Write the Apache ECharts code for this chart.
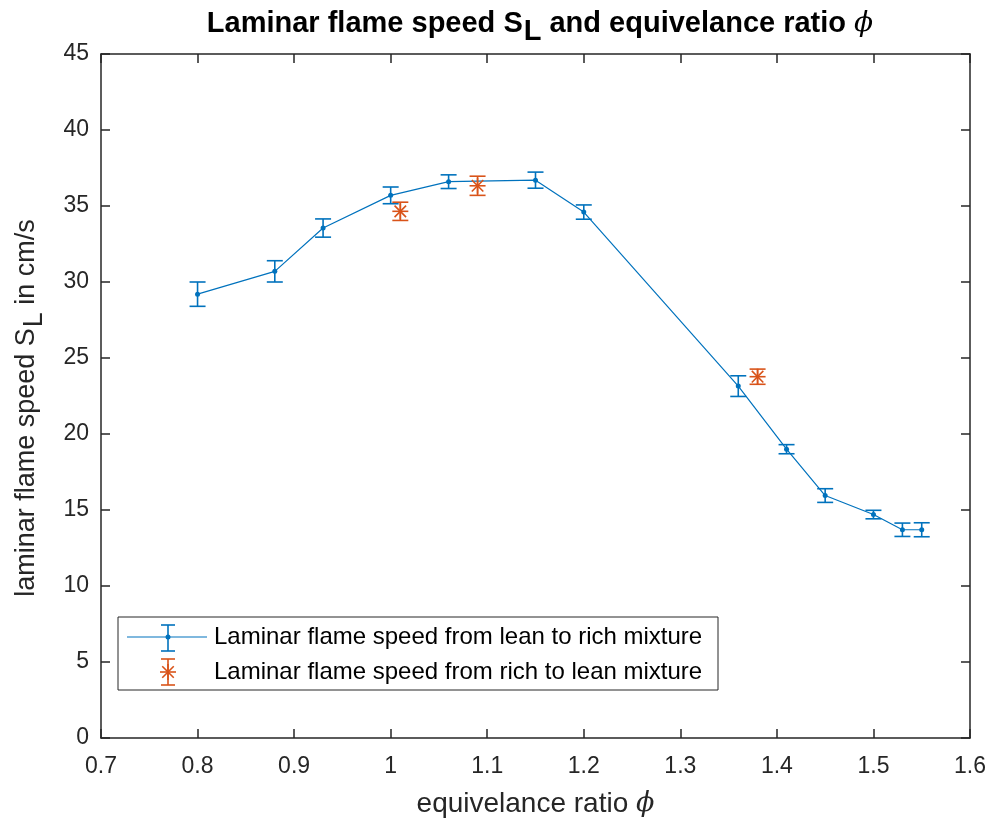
<!DOCTYPE html>
<html>
<head>
<meta charset="utf-8">
<script src="https://cdn.jsdelivr.net/npm/echarts@6/dist/echarts.min.js"></script>
<style>
  html, body { margin: 0; padding: 0; background: #fff; }
  #chart { width: 990px; height: 828px; }
</style>
</head>
<body>
<div id="chart"></div>
<script>
// lean -> rich sweep
const phiLean = [0.8, 0.88, 0.93, 1.0, 1.06, 1.15, 1.2, 1.36, 1.41, 1.45, 1.5, 1.53, 1.55]
const speedLean = [29.2, 30.7, 33.55, 35.7, 36.6, 36.7, 34.6, 23.15, 19.0, 15.95, 14.7, 13.7, 13.7]
const errLean = [0.8, 0.7, 0.6, 0.55, 0.45, 0.53, 0.47, 0.68, 0.3, 0.45, 0.28, 0.44, 0.46]

// rich -> lean sweep
const phiRich = [1.01, 1.09, 1.38]
const speedRich = [34.65, 36.33, 23.77]
const errRich = [0.6, 0.63, 0.5]

const xTicks = { min: 0.7, max: 1.6, interval: 0.1 }
const yTicks = { min: 0, max: 45, interval: 5 }

const blue = '#0072BD'
const orange = '#D95319'
const axisColor = '#262626'
const font = 'Liberation Sans, Arial, sans-serif'
const capHalf = 8

const leanData = phiLean.map((x, i) => [x, speedLean[i], errLean[i]])
const richData = phiRich.map((x, i) => [x, speedRich[i], errRich[i]])

function errorBarShapes(api, color) {
  const x = api.value(0)
  const y = api.value(1)
  const e = api.value(2)
  const top = api.coord([x, y + e])
  const bot = api.coord([x, y - e])
  const style = { stroke: color, lineWidth: 1.6 }
  return [
    { type: 'line', shape: { x1: top[0], y1: top[1], x2: bot[0], y2: bot[1] }, style },
    { type: 'line', shape: { x1: top[0] - capHalf, y1: top[1], x2: top[0] + capHalf, y2: top[1] }, style },
    { type: 'line', shape: { x1: bot[0] - capHalf, y1: bot[1], x2: bot[0] + capHalf, y2: bot[1] }, style }
  ]
}

function asteriskShapes(cx, cy, r, color) {
  const style = { stroke: color, lineWidth: 1.6 }
  const d = r * 0.72
  return [
    { type: 'line', shape: { x1: cx - r, y1: cy, x2: cx + r, y2: cy }, style },
    { type: 'line', shape: { x1: cx, y1: cy - r, x2: cx, y2: cy + r }, style },
    { type: 'line', shape: { x1: cx - d, y1: cy - d, x2: cx + d, y2: cy + d }, style },
    { type: 'line', shape: { x1: cx - d, y1: cy + d, x2: cx + d, y2: cy - d }, style }
  ]
}

const chart = echarts.init(document.getElementById('chart'), null, { renderer: 'canvas' })

const hiddenAxisCommon = {
  type: 'value',
  axisLabel: { show: false },
  splitLine: { show: false },
  axisLine: { show: true, onZero: false, lineStyle: { color: axisColor, width: 1.5 } },
  axisTick: { show: true, inside: true, length: 9, lineStyle: { color: axisColor, width: 1.5 } }
}

// legend drawn as graphic (error-bar style icons)
const legendLeft = 118
const legendTop = 617
const legendRows = [637, 672]
const legendFont = '24px ' + font
const legendGraphic = {
  type: 'group',
  children: [
    { type: 'rect', shape: { x: legendLeft, y: legendTop, width: 600, height: 73 },
      style: { fill: '#fff', stroke: axisColor, lineWidth: 1 } },
    { type: 'line', shape: { x1: 127, y1: legendRows[0], x2: 207, y2: legendRows[0] }, style: { stroke: blue, lineWidth: 1.2 } },
    { type: 'line', shape: { x1: 168, y1: legendRows[0] - 12, x2: 168, y2: legendRows[0] + 14 }, style: { stroke: blue, lineWidth: 1.6 } },
    { type: 'line', shape: { x1: 161, y1: legendRows[0] - 12, x2: 175, y2: legendRows[0] - 12 }, style: { stroke: blue, lineWidth: 1.6 } },
    { type: 'line', shape: { x1: 161, y1: legendRows[0] + 14, x2: 175, y2: legendRows[0] + 14 }, style: { stroke: blue, lineWidth: 1.6 } },
    { type: 'circle', shape: { cx: 168, cy: legendRows[0], r: 2.5 }, style: { fill: blue } },
    { type: 'line', shape: { x1: 168, y1: legendRows[1] - 13, x2: 168, y2: legendRows[1] + 13 }, style: { stroke: orange, lineWidth: 1.6 } },
    { type: 'line', shape: { x1: 161, y1: legendRows[1] - 13, x2: 175, y2: legendRows[1] - 13 }, style: { stroke: orange, lineWidth: 1.6 } },
    { type: 'line', shape: { x1: 161, y1: legendRows[1] + 13, x2: 175, y2: legendRows[1] + 13 }, style: { stroke: orange, lineWidth: 1.6 } },
    ...asteriskShapes(168, legendRows[1], 8, orange),
    { type: 'text', x: 214, y: legendRows[0], style: { text: 'Laminar flame speed from lean to rich mixture', font: legendFont, fill: '#000', verticalAlign: 'middle' } },
    { type: 'text', x: 214, y: legendRows[1], style: { text: 'Laminar flame speed from rich to lean mixture', font: legendFont, fill: '#000', verticalAlign: 'middle' } }
  ]
}

chart.setOption({
  animation: false,
  backgroundColor: '#fff',
  title: {
    left: 535,
    textAlign: 'center',
    top: -4,
    text: '{a|Laminar flame speed S}{sub|L}{a| and equivelance ratio }{phi|ϕ}',
    textStyle: {
      rich: {
        a: { fontFamily: font, fontWeight: 'bold', fontSize: 29, color: '#000', lineHeight: 32 },
        sub: { fontFamily: font, fontWeight: 'bold', fontSize: 29, color: '#000', padding: [16, 0, 0, 1] },
        phi: { fontFamily: 'DejaVu Serif', fontStyle: 'italic', fontWeight: 'normal', fontSize: 28, color: '#000', lineHeight: 32 }
      }
    }
  },
  grid: { left: 101, right: 20, top: 54, bottom: 90 },
  xAxis: [
    {
      type: 'value',
      min: xTicks.min,
      max: xTicks.max,
      interval: xTicks.interval,
      name: '{a|equivelance ratio }{phi|ϕ}',
      nameLocation: 'middle',
      nameGap: 52,
      nameTextStyle: {
        rich: {
          a: { fontFamily: font, fontSize: 28, color: axisColor },
          phi: { fontFamily: 'DejaVu Serif', fontStyle: 'italic', fontSize: 27, color: axisColor }
        }
      },
      splitLine: { show: false },
      axisLine: { show: true, onZero: false, lineStyle: { color: axisColor, width: 1.5 } },
      axisTick: { show: true, inside: true, length: 9, lineStyle: { color: axisColor, width: 1.5 } },
      axisLabel: { fontFamily: font, fontSize: 23, color: axisColor, margin: 17 }
    },
    Object.assign({ position: 'top', min: xTicks.min, max: xTicks.max, interval: xTicks.interval }, hiddenAxisCommon)
  ],
  yAxis: [
    {
      type: 'value',
      min: yTicks.min,
      max: yTicks.max,
      interval: yTicks.interval,
      name: '{a|laminar flame speed S}{sub|L}{a| in cm/s}',
      nameLocation: 'middle',
      nameGap: 53,
      nameTextStyle: {
        padding: [0, 24, 0, 0],
        rich: {
          a: { fontFamily: font, fontSize: 27, color: axisColor, lineHeight: 32 },
          sub: { fontFamily: font, fontSize: 27, color: axisColor, padding: [16, 0, 0, 1] }
        }
      },
      splitLine: { show: false },
      axisLine: { show: true, onZero: false, lineStyle: { color: axisColor, width: 1.5 } },
      axisTick: { show: true, inside: true, length: 9, lineStyle: { color: axisColor, width: 1.5 } },
      axisLabel: { fontFamily: font, fontSize: 23, color: axisColor, margin: 12 }
    },
    Object.assign({ position: 'right', min: yTicks.min, max: yTicks.max, interval: yTicks.interval }, hiddenAxisCommon)
  ],
  series: [
    {
      name: 'lean errorbars',
      type: 'custom',
      data: leanData,
      z: 2,
      renderItem: (params, api) => ({ type: 'group', children: errorBarShapes(api, blue) })
    },
    {
      name: 'Laminar flame speed from lean to rich mixture',
      type: 'line',
      data: leanData.map((d) => [d[0], d[1]]),
      symbol: 'circle',
      symbolSize: 5,
      itemStyle: { color: blue },
      lineStyle: { color: blue, width: 1.2 },
      z: 3
    },
    {
      name: 'Laminar flame speed from rich to lean mixture',
      type: 'custom',
      data: richData,
      z: 4,
      renderItem: (params, api) => {
        const c = api.coord([api.value(0), api.value(1)])
        return { type: 'group', children: errorBarShapes(api, orange).concat(asteriskShapes(c[0], c[1], 8, orange)) }
      }
    }
  ],
  graphic: [legendGraphic]
})
</script>
</body>
</html>
